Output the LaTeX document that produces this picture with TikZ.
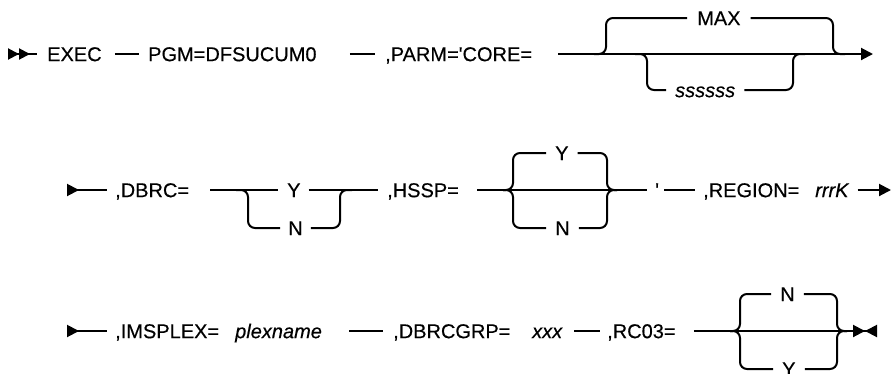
\documentclass[tikz,border=0pt]{standalone}
\usepackage{fontspec}
\setmainfont[FakeBold=0.35]{Liberation Sans}
\usetikzlibrary{arrows.meta}
\definecolor{SynRail}{HTML}{000000}
\definecolor{SynText}{HTML}{000000}

\begin{document}
\begin{tikzpicture}[x=1pt,y=-1pt,font=\fontsize{20}{24}\selectfont,
  kw/.style={text=SynText,inner sep=0pt,text height=14.3pt,text depth=0pt,anchor=west},
  var/.style={kw,font=\fontsize{20}{24}\selectfont\itshape},
  rail/.style={draw=SynRail,line width=2pt},
  track/.style={rail,rounded corners=7pt}]
  \useasboundingbox (0,0) rectangle (894,373);

  % row 1
  \coordinate (rowAin) at (8,54);
  \coordinate (rowAout) at (873,54);
  \node[kw] (exec) at (47,54) {EXEC};
  \node[kw] (pgm) at (148,54) {PGM=DFSUCUM0};
  \node[kw] (parm) at (385,54) {,PARM=\textquotesingle CORE=};
  \node[kw] (max) at (697,18) {MAX};
  \node[var] (sss) at (675,90) {ssssss};
  \draw[rail,{Triangle[length=11pt,width=11pt,reversed]Triangle[length=11pt,width=11pt,reversed]}-] (rowAin) -- ([xshift=-10pt]exec.west);
  \draw[rail] ([xshift=13pt]exec.east) -- ([xshift=-9pt]pgm.west);
  \draw[rail] ([xshift=33pt]pgm.east) -- ([xshift=-10pt]parm.west);
  \draw[rail,-{Triangle[length=12pt,width=12pt]}] ([xshift=26pt]parm.east) -- (rowAout);
  \draw[track] (594,54) -- (606,54) -- (606,18) -- ([xshift=-10pt]max.west);
  \draw[track] ([xshift=10pt]max.east) -- (833,18) -- (833,54) -- (845,54);
  \draw[track] (635,54) -- (647,54) -- (647,90) -- ([xshift=-9pt]sss.west);
  \draw[track] ([xshift=9pt]sss.east) -- (793,90) -- (793,54) -- (805,54);

  % row 2
  \coordinate (rowBin) at (67,190);
  \coordinate (rowBout) at (891,190);
  \node[kw] (dbrc) at (115,190) {,DBRC=};
  \node[kw] (dbrcY) at (287,190) {Y};
  \node[kw] (dbrcN) at (288,228) {N};
  \node[kw] (hssp) at (387,190) {,HSSP=};
  \node[kw] (hsspY) at (555,153) {Y};
  \node[kw] (hsspN) at (555,228) {N};
  \node[kw] (quote) at (655,190) {\textquotesingle};
  \node[kw] (region) at (703,190) {,REGION=};
  \node[var] (size) at (815,190) {rrrK};
  \draw[rail,{Triangle[length=12pt,width=12pt,reversed]}-] (rowBin) -- ([xshift=-8pt]dbrc.west);
  \draw[rail] ([xshift=21pt]dbrc.east) -- ([xshift=-9pt]dbrcY.west);
  \draw[rail] ([xshift=8pt]dbrcY.east) -- ([xshift=-9pt]hssp.west);
  \draw[track] (236,190) -- (248,190) -- (248,228) -- ([xshift=-8pt]dbrcN.west);
  \draw[track] ([xshift=8pt]dbrcN.east) -- (340,228) -- (340,190) -- (352,190);
  \draw[rail] ([xshift=18pt]hssp.east) -- ([xshift=-8pt]quote.west);
  \draw[track] (503,190) -- (513,190) -- (513,153) -- ([xshift=-9pt]hsspY.west);
  \draw[track] ([xshift=9pt]hsspY.east) -- (607,153) -- (607,190) -- (617,190);
  \draw[track] (503,190) -- (513,190) -- (513,228) -- ([xshift=-9pt]hsspN.west);
  \draw[track] ([xshift=9pt]hsspN.east) -- (607,228) -- (607,190) -- (617,190);
  \draw[rail] ([xshift=5pt]quote.east) -- ([xshift=-8pt]region.west);
  \draw[rail,-{Triangle[length=12pt,width=12pt]}] ([xshift=9pt]size.east) -- (rowBout);

  % row 3
  \coordinate (rowCin) at (67,331);
  \coordinate (rowCout) at (877,331);
  \node[kw] (imsplex) at (115,331) {,IMSPLEX=};
  \node[var] (plex) at (235,331) {plexname};
  \node[kw] (grp) at (393,331) {,DBRCGRP=};
  \node[var] (grpid) at (532,331) {xxx};
  \node[kw] (rcthree) at (607,331) {,RC03=};
  \node[kw] (rcN) at (780,294) {N};
  \node[kw] (rcY) at (782,369) {Y};
  \draw[rail,{Triangle[length=12pt,width=12pt,reversed]}-] (rowCin) -- ([xshift=-8pt]imsplex.west);
  \draw[rail] ([xshift=27pt]plex.east) -- ([xshift=-10pt]grp.west);
  \draw[rail] ([xshift=12pt]grpid.east) -- ([xshift=-7pt]rcthree.west);
  \draw[rail,-{Triangle[length=12pt,width=12pt]Triangle[length=12pt,width=12pt,reversed]}] ([xshift=18pt]rcthree.east) -- (rowCout);
  \draw[track] (730,331) -- (740,331) -- (740,294) -- ([xshift=-9pt]rcN.west);
  \draw[track] ([xshift=9pt]rcN.east) -- (837,294) -- (837,331) -- (847,331);
  \draw[track] (730,331) -- (740,331) -- (740,369) -- ([xshift=-9pt]rcY.west);
  \draw[track] ([xshift=9pt]rcY.east) -- (837,369) -- (837,331) -- (847,331);
\end{tikzpicture}
\end{document}
